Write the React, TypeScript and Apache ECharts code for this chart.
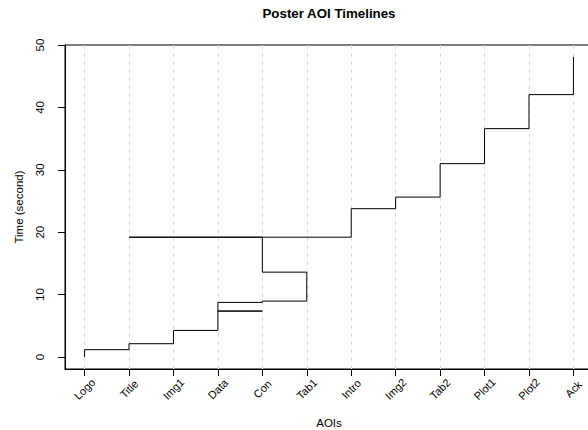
import React, { useEffect, useRef } from "react";
import * as echarts from "echarts";

const categories = ["Logo", "Title", "Img1", "Data", "Con", "Tab1", "Intro", "Img2", "Tab2", "Plot1", "Plot2", "Ack"];
// sequence of AOI visits and time (s) at which each visit ends
const visitAOIs = ["Logo", "Logo", "Title", "Img1", "Data", "Con", "Data", "Con", "Tab1", "Con", "Title", "Intro", "Img2", "Tab2", "Plot1", "Plot2", "Ack"];
const visitTimes = [0, 1.17, 2.13, 4.26, 7.36, 7.36, 8.75, 8.96, 13.6, 19.2, 19.2, 23.77, 25.63, 30.99, 36.6, 42.05, 48.08];
const yTicks = [0, 10, 20, 30, 40, 50];

const FONT = "'Liberation Sans', Arial, Helvetica, sans-serif";

export default function App() {
  const ref = useRef<HTMLDivElement>(null);
  useEffect(() => {
    if (!ref.current) return;
    const chart = echarts.init(ref.current, undefined, { renderer: "svg" });
    const idx = categories.map((_, i) => i);
    const points = visitAOIs.map((a, i) => [categories.indexOf(a), visitTimes[i]]);
    const tMax = Math.max(...visitTimes);
    const tMin = Math.min(...visitTimes);
    const ySpan = tMax - tMin;
    const xSpan = categories.length - 1;
    chart.setOption({
      animation: false,
      backgroundColor: "#fff",
      textStyle: { fontFamily: FONT },
      graphic: [
        {
          type: "text",
          x: 329,
          y: 13,
          style: {
            text: "Poster AOI Timelines",
            font: `bold 13.3px ${FONT}`,
            fill: "#000",
            textAlign: "center",
            textVerticalAlign: "middle",
          },
        },
      ],
      grid: {
        left: 65,
        right: -5,
        top: 45,
        bottom: 61,
        containLabel: false,
        outerBoundsMode: "none",
        show: true,
        borderColor: "#000",
        borderWidth: 1,
        backgroundColor: "transparent",
      },
      xAxis: {
        type: "value",
        min: -0.04 * xSpan,
        max: xSpan + 0.04 * xSpan,
        name: "AOIs",
        nameLocation: "middle",
        nameGap: 48,
        nameTextStyle: { fontSize: 11.5, color: "#000", fontFamily: FONT },
        axisLine: { show: true, onZero: false, lineStyle: { color: "#000", width: 1 } },
        axisTick: { show: true, customValues: idx, length: 7, lineStyle: { color: "#000" } },
        axisLabel: {
          customValues: idx,
          rotate: 45,
          align: "center",
          verticalAlign: "middle",
          fontSize: 11,
          color: "#000",
          margin: 20,
          fontFamily: FONT,
          formatter: (v: number) => categories[Math.round(v)] ?? "",
        },
        splitLine: { show: false },
      },
      yAxis: {
        type: "value",
        min: tMin - 0.04 * ySpan,
        max: tMax + 0.04 * ySpan,
        name: "Time (second)",
        nameLocation: "middle",
        nameGap: 40,
        nameRotate: 90,
        nameTextStyle: { fontSize: 11.5, color: "#000", fontFamily: FONT },
        axisLine: { show: true, onZero: false, lineStyle: { color: "#000", width: 1 } },
        axisTick: { show: true, customValues: yTicks, length: 7, lineStyle: { color: "#000" } },
        axisLabel: {
          customValues: yTicks,
          rotate: 90,
          align: "center",
          verticalAlign: "middle",
          fontSize: 11.5,
          color: "#000",
          margin: 25,
          fontFamily: FONT,
        },
        splitLine: { show: false },
      },
      series: [
        {
          type: "line",
          step: "end",
          data: points,
          symbol: "none",
          z: 3,
          lineStyle: { color: "#000", width: 1 },
          markLine: {
            silent: true,
            symbol: "none",
            z: 1,
            label: { show: false },
            lineStyle: { color: "#d9d9d9", type: [4, 4], width: 1 },
            data: idx.map((i) => ({ xAxis: i })),
          },
        },
      ],
    });
    return () => chart.dispose();
  }, []);
  return <div ref={ref} style={{ width: 588, height: 430, position: "absolute", left: 0, top: 0 }} />;
}
